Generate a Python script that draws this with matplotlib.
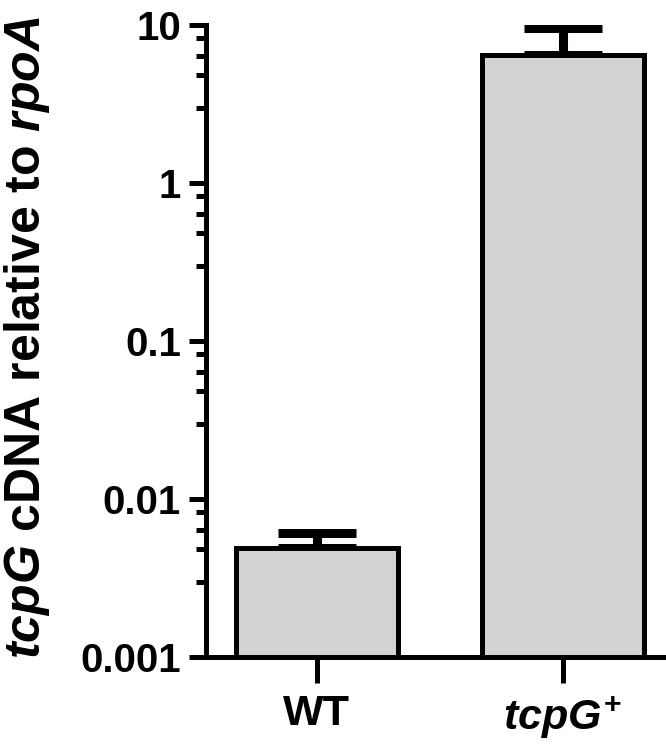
import matplotlib
matplotlib.use("Agg")
from matplotlib import pyplot as plt
from matplotlib import ticker
import numpy as np

GROUPS = ["WT", "$tcpG^{+}$"]
MEANS = [0.0049, 6.5]
ERRS_UP = [0.0012, 3.1]
MINOR_STEPS = [3, 4.8, 6.4, 8.3]

plt.rcParams.update({
    "font.family": "Liberation Sans",
    "font.weight": "bold",
    "mathtext.fontset": "custom",
    "mathtext.rm": "Liberation Sans:bold",
    "mathtext.it": "Liberation Sans:italic:bold",
    "mathtext.bf": "Liberation Sans:bold",
})

fig = plt.figure(figsize=(6.66, 7.47), dpi=100)
ax = fig.add_axes([0.309, 0.1205, 0.691, 0.846])

x = np.arange(len(GROUPS))
ax.bar(x, MEANS, width=0.66, color="#d3d3d3", edgecolor="black", linewidth=3.6, zorder=2)
ax.errorbar(x, MEANS, yerr=[np.zeros(len(ERRS_UP)), ERRS_UP], fmt="none",
            ecolor="black", elinewidth=6.5, capsize=28, capthick=6.5, zorder=1)

ax.set_yscale("log")
ax.set_ylim(0.001, 10)
ax.set_xlim(-0.451, 1.419)
ax.yaxis.set_major_locator(ticker.LogLocator(base=10, numticks=10))
ax.yaxis.set_major_formatter(ticker.FuncFormatter(lambda v, p: f"{v:g}"))
ax.yaxis.set_minor_locator(ticker.FixedLocator(
    [m * 10.0 ** e for e in range(-3, 1) for m in MINOR_STEPS]))
ax.yaxis.set_minor_formatter(ticker.NullFormatter())

ax.set_xticks(x)
ax.set_xticklabels(GROUPS)

for s in ["top", "right"]:
    ax.spines[s].set_visible(False)
for s in ["left", "bottom"]:
    ax.spines[s].set_linewidth(3.6)

ax.tick_params(axis="y", which="major", length=12, width=3.6, labelsize=29, pad=6)
ax.tick_params(axis="y", which="minor", length=7, width=3.6)
ax.tick_params(axis="x", which="major", length=19, width=3.6, labelsize=31, pad=8)

fig.text(0.041, 0.548, "$tcpG$ cDNA relative to $rpoA$", rotation=90,
         ha="center", va="center", fontsize=36, fontweight="bold")

fig.savefig("out.png", dpi=100)
